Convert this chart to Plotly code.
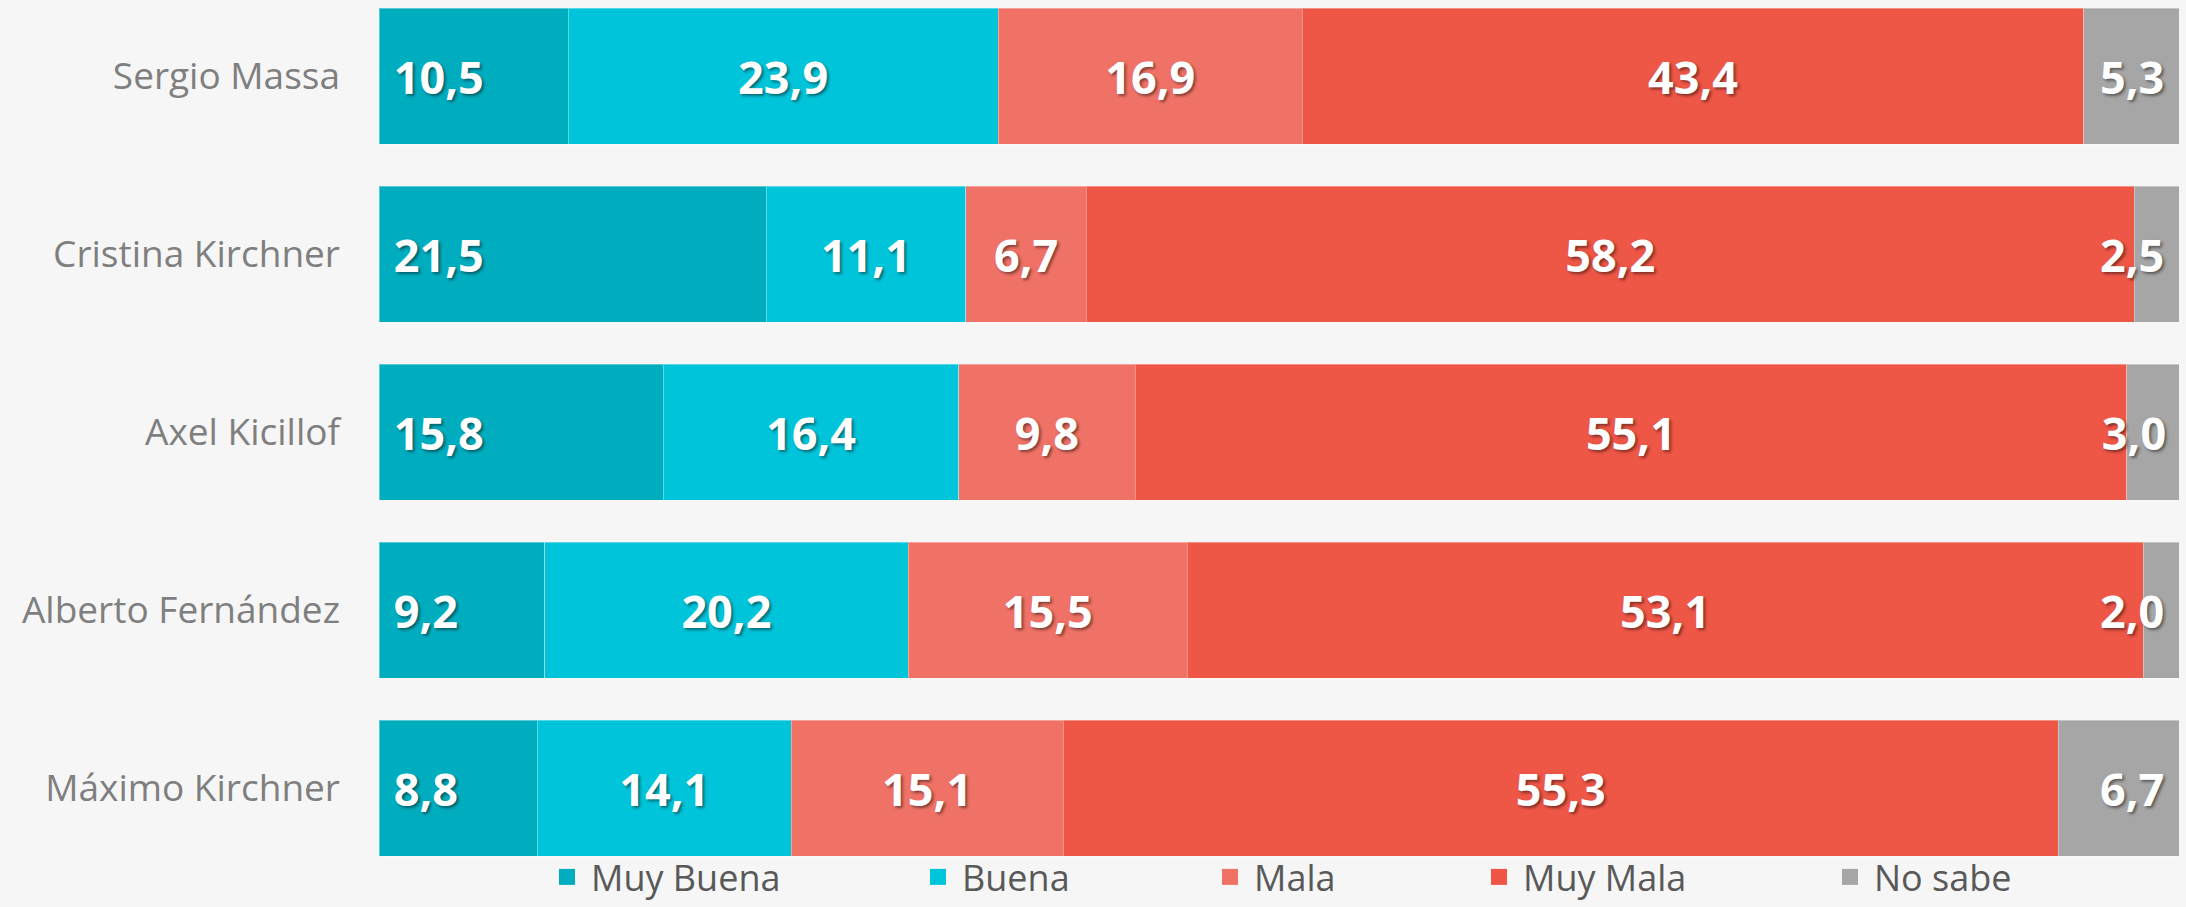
import plotly.graph_objects as go

candidates = ["Sergio Massa", "Cristina Kirchner", "Axel Kicillof", "Alberto Fernández", "Máximo Kirchner"]
series_names = ["Muy Buena", "Buena", "Mala", "Muy Mala", "No sabe"]
muy_buena = [10.5, 21.5, 15.8, 9.2, 8.8]
buena = [23.9, 11.1, 16.4, 20.2, 14.1]
mala = [16.9, 6.7, 9.8, 15.5, 15.1]
muy_mala = [43.4, 58.2, 55.1, 53.1, 55.3]
no_sabe = [5.3, 2.5, 3.0, 2.0, 6.7]

values = [muy_buena, buena, mala, muy_mala, no_sabe]
colors = ["#00adbf", "#00c4d9", "#f07266", "#ee5646", "#a6a6a6"]
anchors = ["start", "middle", "middle", "middle", "end"]

W, H = 2186, 907
L, R, T, B = 379, 7, 0, 0
plot_w = W - L - R
plot_h = H - T - B
pitch, first_center = 178.0, 76.0
y_top = -first_center / pitch
y_bot = y_top + plot_h / pitch
legend_sq = [563, 934, 1226, 1495, 1846]


def fmt(v, i):
    s = f"{v:.1f}".replace(".", ",")
    if anchors[i] == "start":
        return "\u00a0" + s
    if anchors[i] == "end":
        return s + "\u00a0"
    return s


fig = go.Figure()
for i, (name, vals) in enumerate(zip(series_names, values)):
    fig.add_trace(go.Bar(
        y=candidates, x=vals, orientation="h", name=name,
        width=0.764, showlegend=False,
        marker=dict(color=colors[i], line=dict(color="rgba(255,255,255,0.35)", width=1)),
        text=[fmt(v, i) for v in vals],
        textposition="inside", insidetextanchor=anchors[i],
        constraintext="none", textangle=0,
        textfont=dict(family="Open Sans", size=45, color="white", weight="bold",
                      shadow="2px 2px 3px rgba(0,0,0,0.45)"),
        hoverinfo="skip",
    ))

for i, name in enumerate(series_names):
    fig.add_trace(go.Scatter(
        x=[None], y=[None], mode="markers", name=name,
        marker=dict(symbol="square", size=16, color=colors[i]),
        showlegend=True,
        legend="legend" if i == 0 else f"legend{i+1}",
    ))

layout_legends = {}
for i, px in enumerate(legend_sq):
    key = "legend" if i == 0 else f"legend{i+1}"
    layout_legends[key] = dict(
        x=(px - 20 - L) / plot_w, xanchor="left",
        y=0, yanchor="bottom",
        orientation="h", bgcolor="rgba(0,0,0,0)", itemwidth=38,
        font=dict(family="Open Sans", size=36, color="#595959"),
    )

fig.update_layout(
    width=W, height=H,
    barmode="stack", showlegend=True,
    paper_bgcolor="#f6f6f6", plot_bgcolor="#f6f6f6",
    margin=dict(l=L, r=R, t=T, b=B),
    xaxis=dict(range=[0, 100], visible=False, fixedrange=True, automargin=False),
    yaxis=dict(range=[y_bot, y_top], showgrid=False, zeroline=False, showline=False,
               ticks="", ticklabelstandoff=38, automargin=False, fixedrange=True,
               tickfont=dict(family="Open Sans", size=37, color="#7f7f7f")),
    **layout_legends,
)

fig.write_html("out.html", config={"displayModeBar": False},
               post_script="document.body.style.margin='0';document.body.style.background='#f6f6f6';")
